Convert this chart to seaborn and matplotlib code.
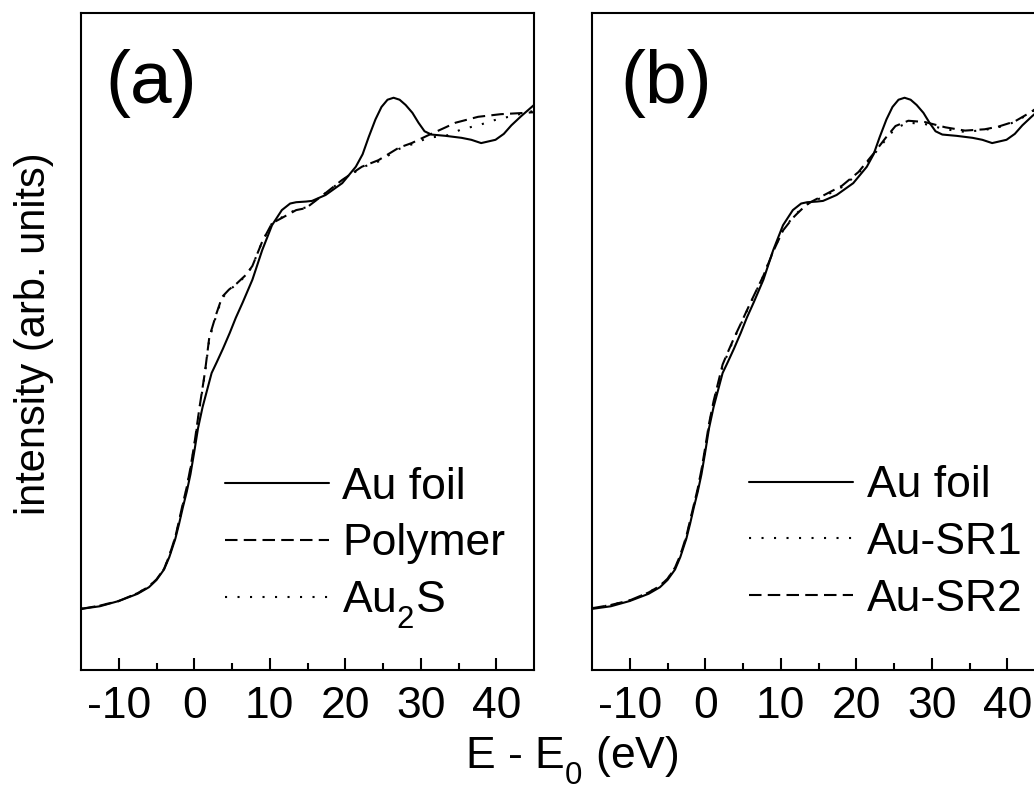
import pandas as pd
import matplotlib
matplotlib.use('Agg')
import matplotlib.pyplot as plt
import seaborn as sns

# Au foil reference (same spectrum in both panels)
E_foil = [-15, -12.5, -10, -7.5, -6, -5, -4, -3.3, -2.5, -2, -1.5, -1, -0.5, 0, 0.5, 1.1,
          2.3, 3.0, 3.8, 4.7, 5.5, 6.4, 7.7, 9.0, 10.3, 11.6, 12.7, 13.5, 14.8, 15.6, 17.4,
          19.6, 21.4, 22.3, 23.1, 24.0, 24.8, 25.6, 26.4, 27.2, 28.0, 28.9, 29.7, 30.5, 31.4,
          33.3, 35.4, 36.7, 38.0, 39.9, 41.0, 42.0, 43.3, 45]
I_foil = [9.3, 9.7, 10.5, 11.6, 12.6, 13.7, 15.3, 17.2, 20.0, 22.3, 24.8, 27.1, 29.8, 33.2,
          36.8, 40.0, 45.2, 46.9, 48.9, 51.3, 53.6, 55.9, 59.4, 63.9, 67.7, 70.0, 71.0, 71.2,
          71.3, 71.4, 72.3, 74.1, 76.6, 78.5, 81.1, 83.8, 85.7, 86.8, 87.1, 86.8, 86.0, 84.8,
          83.3, 82.0, 81.5, 81.3, 81.0, 80.7, 80.2, 80.7, 81.6, 82.9, 84.3, 86.0]

# panel (a)
E_poly = [-15, -12.5, -10, -7.5, -6, -5, -4, -3.3, -2.5, -2, -1.5, -1, -0.5, 0, 0.7, 1.4,
          2.0, 2.95, 3.7, 4.6, 5.6, 6.9, 7.7, 9.0, 10.3, 11.6, 13.5, 14.8, 17.4, 19.6, 22.2,
          24.4, 27.1, 28.8, 31.0, 33.3, 34.6, 37.6, 40.6, 43.8, 45]
I_poly = [9.3, 9.8, 10.5, 11.7, 12.7, 13.8, 15.4, 17.4, 20.3, 22.8, 25.4, 27.8, 30.8, 34.3,
          40.0, 45.2, 50.7, 54.3, 56.8, 57.9, 58.8, 60.2, 61.5, 65.2, 68.0, 68.8, 70.0, 70.3,
          72.6, 74.6, 76.6, 77.6, 79.5, 80.2, 81.4, 82.6, 83.3, 84.2, 84.6, 84.8, 84.9]
E_au2s = [-15, -12.5, -10, -7.5, -6, -5, -4, -3.3, -2.5, -2, -1.5, -1, -0.5, 0, 0.7, 1.4,
          2.0, 2.95, 3.7, 4.6, 5.6, 6.9, 7.7, 9.0, 10.3, 11.6, 13.5, 14.8, 17.4, 19.6, 22.2,
          24.4, 27.1, 28.8, 31.0, 33.6, 35.4, 37.6, 39.8, 42.0, 43.8, 45]
I_au2s = [9.3, 9.8, 10.5, 11.7, 12.7, 13.8, 15.4, 17.4, 20.2, 22.6, 25.2, 27.6, 30.6, 34.0,
          39.8, 45.0, 50.4, 54.1, 56.6, 57.8, 58.7, 60.1, 61.5, 65.2, 68.0, 68.9, 70.1, 70.4,
          72.6, 74.5, 76.5, 77.4, 79.3, 80.0, 81.0, 81.4, 82.3, 82.9, 83.7, 84.3, 84.8, 85.1]

# panel (b)
E_sr = [-15, -12.5, -10, -7.5, -6, -5, -4, -3.3, -2.5, -2, -1.5, -1, -0.5, 0, 0.5, 1.1,
        2.3, 3.0, 3.8, 4.7, 5.5, 6.4, 7.7, 9.0, 10.3, 11.6, 12.2, 13.3, 14.1, 15.6, 18.1,
        20.3, 22.5, 23.9, 25.2, 26.9, 29.1, 31.8, 34.4, 37.0, 38.8, 41.0, 43.1, 45]
I_sr1 = [9.4, 9.9, 10.6, 11.8, 12.8, 13.9, 15.5, 17.4, 20.2, 22.6, 25.0, 27.4, 30.3, 33.6,
         37.2, 40.6, 46.2, 48.2, 50.4, 52.6, 54.6, 56.8, 60.0, 63.8, 67.0, 68.9, 69.6, 70.8,
         71.2, 72.0, 73.5, 75.6, 78.7, 80.7, 82.5, 83.3, 83.1, 82.3, 81.9, 82.2, 82.6, 83.4,
         84.8, 86.4]
I_sr2 = [9.4, 9.9, 10.6, 11.8, 12.8, 13.9, 15.6, 17.5, 20.4, 22.8, 25.2, 27.6, 30.5, 33.9,
         37.5, 40.9, 46.5, 48.4, 50.5, 52.7, 54.7, 56.9, 60.0, 63.7, 66.9, 68.8, 69.5, 70.7,
         71.3, 72.2, 73.7, 75.8, 78.9, 81.0, 82.8, 83.6, 83.4, 82.6, 82.1, 82.3, 82.7, 83.5,
         84.9, 86.4]

sns.set_theme(style='ticks')
plt.rcParams['font.family'] = ['Liberation Sans', 'DejaVu Sans']
plt.rcParams['mathtext.fontset'] = 'custom'
plt.rcParams['mathtext.rm'] = 'Liberation Sans'
plt.rcParams['mathtext.it'] = 'Liberation Sans:italic'
plt.rcParams['axes.unicode_minus'] = False
plt.rcParams['text.color'] = 'black'
plt.rcParams['axes.labelcolor'] = 'black'
plt.rcParams['xtick.color'] = 'black'

# subscripts sit lower in the original figure
try:
    import matplotlib._mathtext as _mt
    _mt.FontConstantsBase.sub1 = 0.68
except Exception:
    pass

SOLID = '-'
DASHED = (0, (6, 3))
DOTTED = (0, (1, 5))
FS = 32
LW = 1.5

fig = plt.figure(figsize=(10.34, 7.89), dpi=100)
ax_a = fig.add_axes([81 / 1034, 119 / 789, 453 / 1034, 657 / 789])
ax_b = fig.add_axes([592 / 1034, 119 / 789, 453 / 1034, 657 / 789])

panels = [
    (ax_a, '(a)', [(E_foil, I_foil, 'Au foil', SOLID),
                   (E_poly, I_poly, 'Polymer', DASHED),
                   (E_au2s, I_au2s, 'Au$_2$S', DOTTED)], (0.318, 0.184), 0.053),
    (ax_b, '(b)', [(E_foil, I_foil, 'Au foil', SOLID),
                   (E_sr, I_sr1, 'Au-SR1', DOTTED),
                   (E_sr, I_sr2, 'Au-SR2', DASHED)], (0.347, 0.194), 0.062),
]

for ax, tag, series, leg_xy, tag_x in panels:
    for x, y, lab, ls in series:
        sns.lineplot(x=x, y=y, ax=ax, color='black', linewidth=LW, linestyle=ls,
                     label=lab, sort=False)
    ax.set_xlim(-15, 45)
    ax.set_ylim(0, 100)
    ax.set_xticks([-10, 0, 10, 20, 30, 40])
    ax.set_xticks([-5, 5, 15, 25, 35], minor=True)
    ax.set_yticks([])
    ax.set_xlabel('')
    ax.set_ylabel('')
    ax.tick_params(axis='x', which='major', direction='in', length=8.6, width=1.5,
                   labelsize=FS, pad=11.5, colors='black')
    ax.tick_params(axis='x', which='minor', direction='in', length=5, width=1.5)
    for sp in ax.spines.values():
        sp.set_visible(True)
        sp.set_linewidth(1.5)
        sp.set_color('black')
    ax.text(tag_x, 0.863, tag, transform=ax.transAxes,
            fontsize=54, va='baseline', ha='left')
    ax.legend(loc='center left', bbox_to_anchor=leg_xy, frameon=False,
              fontsize=FS, handlelength=2.34, handletextpad=0.3, labelspacing=0.35,
              borderpad=0, borderaxespad=0)

fig.text(34 / 1034, 1 - 334 / 789, 'intensity (arb. units)', rotation=90,
         fontsize=30, va='center', ha='center')
fig.text(572 / 1034, 1 - 769 / 789, 'E - E$_0$ (eV)', fontsize=FS,
         va='baseline', ha='center')

fig.savefig('out.png', dpi=100)
